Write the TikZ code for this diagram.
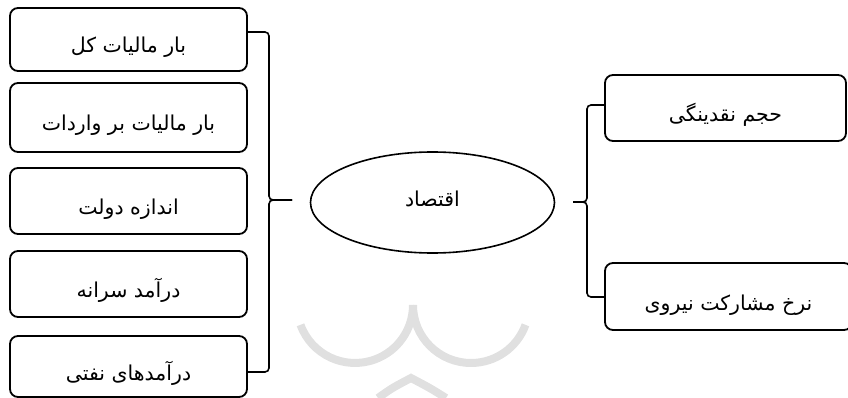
\documentclass[tikz,border=0pt]{standalone}
\usepackage{fontspec}
\TeXXeTstate=1
\newfontfamily\fa[Script=Arabic]{DejaVu Sans}
\usetikzlibrary{shapes.geometric}

\tikzset{
  label font/.style={font=\fa\fontsize{20.5}{24}\selectfont},
  box/.style={draw=black, line width=1.8pt, rounded corners=8pt,
    inner sep=0pt, text height=27pt, text depth=0pt, label font},
  oval/.style={draw=black, line width=1.6pt, ellipse, inner sep=0pt,
    text height=12pt, text depth=5pt, label font},
  bracket/.style={draw=black, line width=1.6pt, rounded corners=4pt},
  emblem/.style={draw=black!12, line width=8pt}
}

\newcommand{\fatext}[1]{\beginR #1\endR}

\begin{document}
\begin{tikzpicture}[x=1pt, y=-1pt]
\useasboundingbox (0,0) rectangle (848,398);

% faint background emblem
\draw[emblem] (300.5,324.8) arc[start angle=160, end angle=0, radius=58];
\draw[emblem] (413,305) arc[start angle=180, end angle=20, radius=58];
\draw[emblem] (378,398) .. controls (392,388) .. (411,378) .. controls (430,388) .. (446,398);

% left column
\node[box, minimum width=237pt, minimum height=63pt] (b1) at (128.5,39.5) {\fatext{بار مالیات کل}};
\node[box, minimum width=237pt, minimum height=69pt] (b2) at (128.5,117.5) {\fatext{بار مالیات بر واردات}};
\node[box, minimum width=237pt, minimum height=66pt] (b3) at (128.5,201) {\fatext{اندازه دولت}};
\node[box, minimum width=237pt, minimum height=66pt] (b4) at (128.5,284) {\fatext{درآمد سرانه}};
\node[box, minimum width=237pt, minimum height=61pt] (b5) at (128.5,366.5) {\fatext{درآمدهای نفتی}};

% centre
\node[oval, minimum width=244pt, minimum height=101pt] (core) at (432.5,202.5) {\fatext{اقتصاد}};

% right column
\node[box, minimum width=241pt, minimum height=66pt] (r1) at (725.5,108) {\fatext{حجم نقدینگی}};
\node[box, minimum width=247pt, minimum height=67pt] (r2) at (728.5,296.5) {\fatext{نرخ مشارکت نیروی}};

% brace tips
\coordinate (lt) at (292,200);
\coordinate (rt) at (573,202);

% left brace
\draw[bracket] ([yshift=7.5pt]b1.east) -| (269,200) -- (lt);
\draw[bracket] (lt) -- (269,200) |- ([yshift=-5.5pt]b5.east);

% right brace
\draw[bracket] ([yshift=3pt]r1.west) -| (587,202) -- (rt);
\draw[bracket] (rt) -- (587,202) |- (r2.west |- 0,297);
\end{tikzpicture}
\end{document}
